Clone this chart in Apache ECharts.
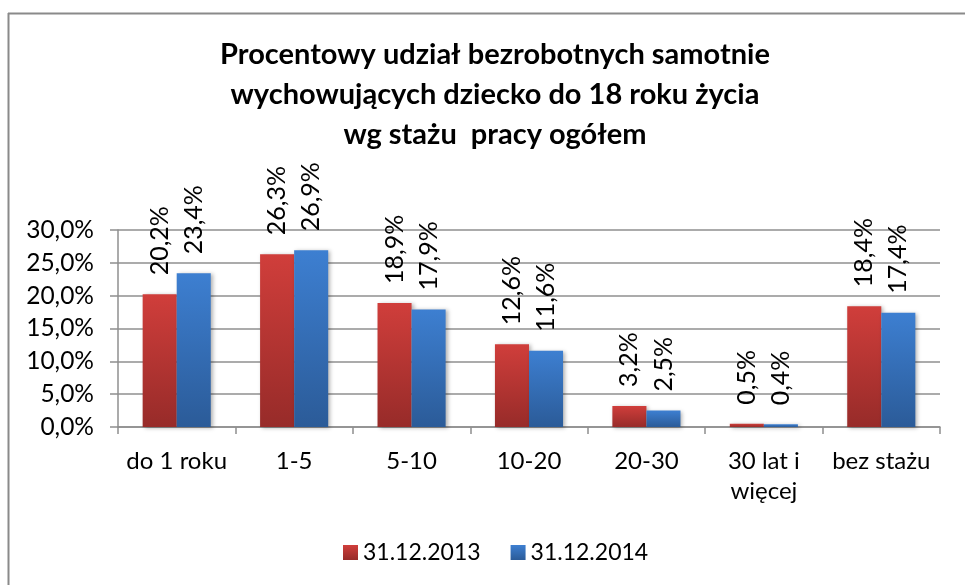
<!DOCTYPE html>
<html>
<head>
<meta charset="utf-8">
<script src="https://cdn.jsdelivr.net/npm/echarts@6/dist/echarts.min.js"></script>
<style>
  html, body { margin: 0; padding: 0; background: #fff; }
  #chart { width: 965px; height: 585px; }
</style>
</head>
<body>
<div id="chart"></div>
<script>
// Staż pracy (kategorie osi X)
const categories = ['do 1 roku', '1-5', '5-10', '10-20', '20-30', '30 lat i\nwięcej', 'bez stażu'];
// Udział procentowy na 31.12.2013 i 31.12.2014
const values2013 = [20.2, 26.3, 18.9, 12.6, 3.2, 0.5, 18.4];
const values2014 = [23.4, 26.9, 17.9, 11.6, 2.5, 0.4, 17.4];
const seriesNames = ['31.12.2013', '31.12.2014'];
const yTicks = { min: 0, max: 30, interval: 5 };

const FONT = 'Lato, "Open Sans", sans-serif';
const pct = v => v.toFixed(1).replace('.', ',') + '%';

function grad(top, bottom) {
  return new echarts.graphic.LinearGradient(0, 0, 0, 1, [
    { offset: 0, color: top },
    { offset: 1, color: bottom }
  ]);
}

const labelStyle = {
  show: true,
  position: 'top',
  rotate: 90,
  align: 'left',
  verticalAlign: 'middle',
  distance: 19,
  fontFamily: FONT,
  fontSize: 25,
  color: '#000',
  formatter: p => pct(p.value)
};

const chart = echarts.init(document.getElementById('chart'), null, { renderer: 'canvas' });
chart.setOption({
  animation: false,
  backgroundColor: '#fff',
  title: {
    text: 'Procentowy udział bezrobotnych samotnie\nwychowujących dziecko do 18 roku życia\nwg stażu  pracy ogółem',
    left: 490,
    textAlign: 'center',
    top: 30,
    textStyle: {
      fontFamily: FONT,
      fontWeight: 'bold',
      fontSize: 29,
      lineHeight: 40,
      color: '#000'
    }
  },
  graphic: [
    { type: 'line', shape: { x1: 8, y1: 13.5, x2: 965, y2: 13.5 }, style: { stroke: '#8a8a8a', lineWidth: 2 } },
    { type: 'line', shape: { x1: 8.5, y1: 13, x2: 8.5, y2: 585 }, style: { stroke: '#8a8a8a', lineWidth: 2 } }
  ],
  legend: {
    data: seriesNames,
    left: 338,
    top: 536,
    icon: 'rect',
    itemWidth: 15,
    itemHeight: 15,
    itemGap: 30,
    textStyle: { fontFamily: FONT, fontSize: 23, color: '#000' }
  },
  grid: { left: 118, right: 25, top: 230, bottom: 158, containLabel: false },
  xAxis: {
    type: 'category',
    data: categories,
    axisLine: { lineStyle: { color: '#8f8f8f', width: 1.5 } },
    axisTick: { show: true, length: 7, lineStyle: { color: '#8f8f8f', width: 1.5 } },
    axisLabel: {
      fontFamily: FONT, fontSize: 24, color: '#000',
      margin: 19, lineHeight: 30, interval: 0
    }
  },
  yAxis: {
    type: 'value',
    min: yTicks.min,
    max: yTicks.max,
    interval: yTicks.interval,
    axisLine: { show: true, lineStyle: { color: '#8f8f8f', width: 1.5 } },
    axisTick: { show: true, length: 8, lineStyle: { color: '#8f8f8f', width: 1.5 } },
    splitLine: { show: true, lineStyle: { color: '#8f8f8f', width: 1.5 } },
    axisLabel: {
      fontFamily: FONT, fontSize: 24.5, color: '#000', margin: 24,
      formatter: v => pct(v)
    }
  },
  series: [
    {
      name: seriesNames[0],
      type: 'bar',
      data: values2013,
      barGap: '0%',
      barCategoryGap: '42%',
      itemStyle: {
        color: grad('#d03e3b', '#972b29'),
        shadowColor: 'rgba(0,0,0,0.3)',
        shadowBlur: 4,
        shadowOffsetX: 2,
        shadowOffsetY: 1
      },
      label: labelStyle
    },
    {
      name: seriesNames[1],
      type: 'bar',
      data: values2014,
      barGap: '0%',
      barCategoryGap: '42%',
      itemStyle: {
        color: grad('#3d7fd1', '#2b5b98'),
        shadowColor: 'rgba(0,0,0,0.3)',
        shadowBlur: 4,
        shadowOffsetX: 2,
        shadowOffsetY: 1
      },
      label: labelStyle
    }
  ]
});
</script>
</body>
</html>
